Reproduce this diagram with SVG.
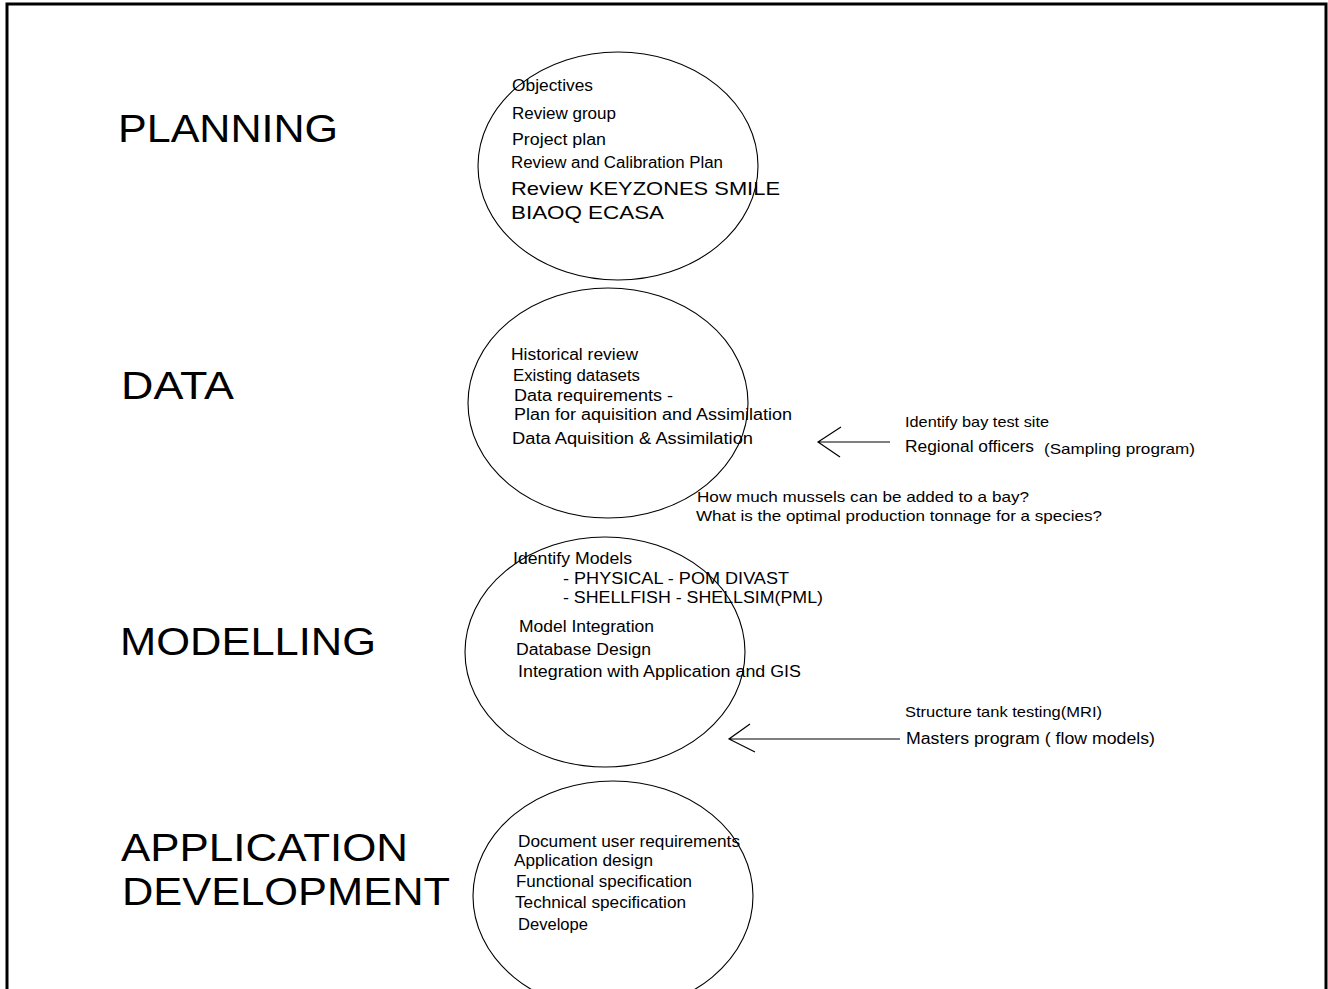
<svg xmlns="http://www.w3.org/2000/svg" width="1328" height="989" viewBox="0 0 1328 989">
<style>
.frame{fill:none;stroke:#000;stroke-width:3}
.ell{fill:none;stroke:#000;stroke-width:1.1}
text{font-family:"Liberation Sans",Arial,sans-serif;fill:#000}
.h{font-size:38px}
.t{font-size:16px}
.s{font-size:15px}
.b{font-size:19px}
.c{fill:none;stroke:#000;stroke-width:1.2}
</style>
<rect x="0" y="0" width="1328" height="989" fill="#fff"/>
<rect class="frame" x="7" y="4" width="1319" height="1000"/>
<g id="planning">
<text class="h" x="118" y="142" textLength="220" lengthAdjust="spacingAndGlyphs">PLANNING</text>
<ellipse class="ell" cx="618" cy="166" rx="140" ry="114"/>
<text class="t" x="512" y="91" textLength="81" lengthAdjust="spacingAndGlyphs">Objectives</text>
<text class="t" x="512" y="119" textLength="104" lengthAdjust="spacingAndGlyphs">Review group</text>
<text class="t" x="512" y="145" textLength="94" lengthAdjust="spacingAndGlyphs">Project plan</text>
<text class="t" x="511" y="168" textLength="212" lengthAdjust="spacingAndGlyphs">Review and Calibration Plan</text>
<text class="b" x="511" y="195" textLength="269" lengthAdjust="spacingAndGlyphs">Review KEYZONES SMILE</text>
<text class="b" x="511" y="219" textLength="153" lengthAdjust="spacingAndGlyphs">BIAOQ ECASA</text>
</g>
<g id="data">
<text class="h" x="121" y="399" textLength="113" lengthAdjust="spacingAndGlyphs">DATA</text>
<ellipse class="ell" cx="608" cy="403" rx="140" ry="115"/>
<text class="t" x="511" y="360" textLength="127" lengthAdjust="spacingAndGlyphs">Historical review</text>
<text class="t" x="513" y="381" textLength="127" lengthAdjust="spacingAndGlyphs">Existing datasets</text>
<text class="t" x="514" y="401" textLength="159" lengthAdjust="spacingAndGlyphs">Data requirements -</text>
<text class="t" x="514" y="420" textLength="278" lengthAdjust="spacingAndGlyphs">Plan for aquisition and Assimilation</text>
<text class="t" x="512" y="444" textLength="241" lengthAdjust="spacingAndGlyphs">Data Aquisition &amp; Assimilation</text>
</g>
<g id="data-inputs">
<text class="s" x="905" y="427" textLength="144" lengthAdjust="spacingAndGlyphs">Identify bay test site</text>
<text class="t" x="905" y="452" textLength="129" lengthAdjust="spacingAndGlyphs">Regional officers</text>
<text class="s" x="1044" y="454" textLength="151" lengthAdjust="spacingAndGlyphs">(Sampling program)</text>
</g>
<g id="questions">
<text class="s" x="697" y="502" textLength="332" lengthAdjust="spacingAndGlyphs">How much mussels can be added to a bay?</text>
<text class="s" x="696" y="521" textLength="406" lengthAdjust="spacingAndGlyphs">What is the optimal production tonnage for a species?</text>
</g>
<g id="modelling">
<text class="h" x="120" y="655" textLength="256" lengthAdjust="spacingAndGlyphs">MODELLING</text>
<ellipse class="ell" cx="605" cy="652" rx="140" ry="115"/>
<text class="t" x="513" y="564" textLength="119" lengthAdjust="spacingAndGlyphs">Identify Models</text>
<text class="t" x="563" y="584" textLength="226" lengthAdjust="spacingAndGlyphs">- PHYSICAL - POM DIVAST</text>
<text class="t" x="563" y="603" textLength="260" lengthAdjust="spacingAndGlyphs">- SHELLFISH - SHELLSIM(PML)</text>
<text class="t" x="519" y="632" textLength="135" lengthAdjust="spacingAndGlyphs">Model Integration</text>
<text class="t" x="516" y="655" textLength="135" lengthAdjust="spacingAndGlyphs">Database Design</text>
<text class="t" x="518" y="677" textLength="283" lengthAdjust="spacingAndGlyphs">Integration with Application and GIS</text>
</g>
<g id="modelling-inputs">
<text class="s" x="905" y="717" textLength="197" lengthAdjust="spacingAndGlyphs">Structure tank testing(MRI)</text>
<text class="t" x="906" y="744" textLength="249" lengthAdjust="spacingAndGlyphs">Masters program ( flow models)</text>
</g>
<g id="application">
<text class="h" x="121" y="861" textLength="287" lengthAdjust="spacingAndGlyphs">APPLICATION</text>
<text class="h" x="122" y="905" textLength="328" lengthAdjust="spacingAndGlyphs">DEVELOPMENT</text>
<ellipse class="ell" cx="613" cy="896" rx="140" ry="115"/>
<text class="t" x="518" y="847" textLength="222" lengthAdjust="spacingAndGlyphs">Document user requirements</text>
<text class="t" x="514" y="866" textLength="139" lengthAdjust="spacingAndGlyphs">Application design</text>
<text class="t" x="516" y="887" textLength="176" lengthAdjust="spacingAndGlyphs">Functional specification</text>
<text class="t" x="515" y="908" textLength="171" lengthAdjust="spacingAndGlyphs">Technical specification</text>
<text class="t" x="518" y="930" textLength="70" lengthAdjust="spacingAndGlyphs">Develope</text>
</g>
<g id="connectors">
<path class="c" d="M890 442 L818 442 M841 427 L818 442 L840 457"/>
<path class="c" d="M900 739 L729 739 M750 724 L729 739 L755 752"/>
</g>
</svg>
